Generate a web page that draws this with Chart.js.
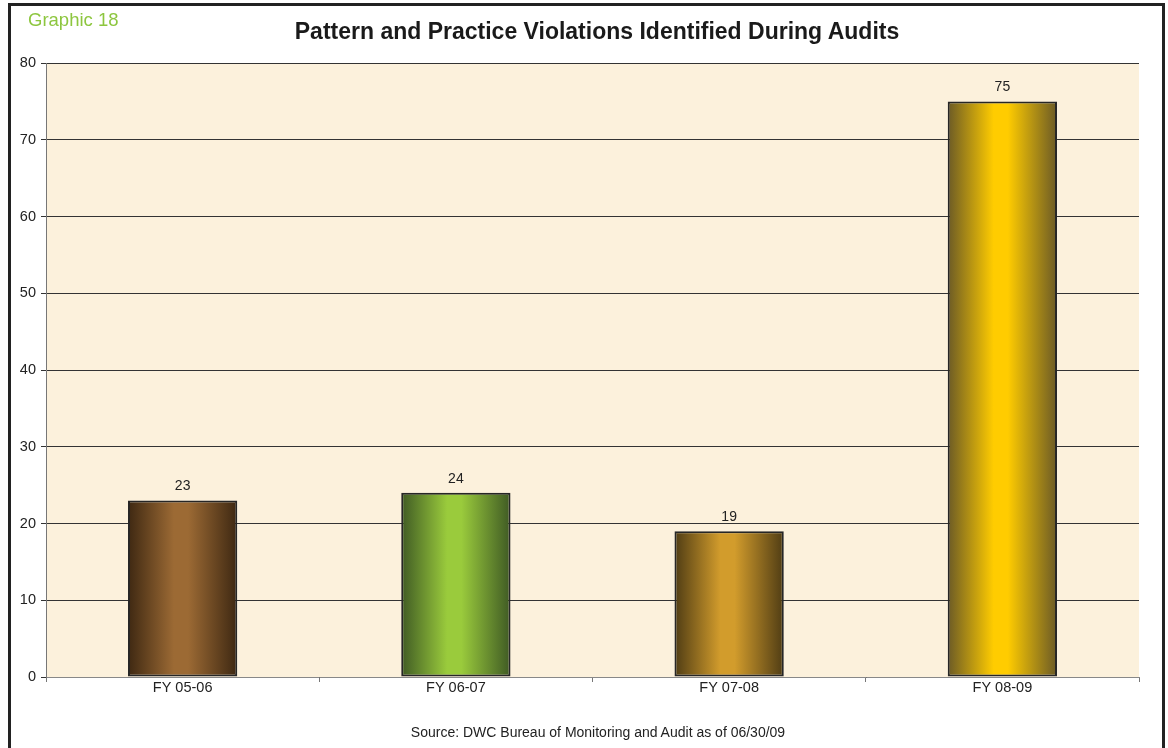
<!DOCTYPE html>
<html>
<head>
<meta charset="utf-8">
<script src="https://cdn.jsdelivr.net/npm/chart.js@4"></script>
<style>
  body { margin: 0; background: #fff; font-family: "Liberation Sans", Arial, sans-serif; }
  #page { position: relative; width: 1168px; height: 748px; overflow: hidden; background: #fff; }
  #frame { position: absolute; left: 8px; top: 3px; width: 1151px; height: 800px; border: 3px solid #222; }
  #tag { position: absolute; left: 28px; top: 9px; font-size: 18.5px; color: #8dc63f; }
  #title { position: absolute; left: 0; width: 1194px; top: 18px; text-align: center; font-size: 23px; font-weight: bold; color: #1a1a1a; }
  #source { position: absolute; left: 0; width: 1196px; top: 724px; text-align: center; font-size: 14px; color: #222; }
  #wrap { position: absolute; left: 0; top: 0; width: 1168px; height: 748px; }
</style>
</head>
<body>
<div id="page">
  <div id="frame"></div>
  <div id="wrap"><canvas id="chart" width="1168" height="748"></canvas></div>
  <div id="tag">Graphic 18</div>
  <div id="title">Pattern and Practice Violations Identified During Audits</div>
  <div id="source">Source: DWC Bureau of Monitoring and Audit as of 06/30/09</div>
</div>
<script>
const categories = ["FY 05-06", "FY 06-07", "FY 07-08", "FY 08-09"];
const violations = [23, 24, 19, 75];
const yTicks = [0, 10, 20, 30, 40, 50, 60, 70, 80];

// edge / middle colours of each bar's cylinder shading
const edgeColors = ["#3e2812", "#3f5a24", "#4f3c14", "#6b5a26"];
const midColors = ["#9c6a34", "#9acb3c", "#d29c2c", "#ffcc00"];

const BAR_FRACTION = 0.4;

function barFill(ctx) {
  const chart = ctx.chart;
  const x = chart.scales.x;
  const i = ctx.dataIndex;
  if (!x || !chart.chartArea || i === undefined) return midColors[0];
  const cx = x.getPixelForValue(i);
  const half = (x.width / categories.length) * BAR_FRACTION / 2;
  const g = chart.ctx.createLinearGradient(cx - half, 0, cx + half, 0);
  g.addColorStop(0, edgeColors[i]);
  g.addColorStop(0.42, midColors[i]);
  g.addColorStop(0.55, midColors[i]);
  g.addColorStop(1, edgeColors[i]);
  return g;
}

const plotBackground = {
  id: "plotBackground",
  beforeDraw(chart) {
    const { ctx, chartArea: a } = chart;
    ctx.save();
    ctx.fillStyle = "#fcf1dc";
    ctx.fillRect(a.left, a.top, a.right - a.left, a.bottom - a.top);
    ctx.restore();
  }
};

const valueLabels = {
  id: "valueLabels",
  afterDatasetsDraw(chart) {
    const { ctx } = chart;
    const meta = chart.getDatasetMeta(0);
    ctx.save();
    ctx.font = "14px 'Liberation Sans', Arial, sans-serif";
    ctx.fillStyle = "#222";
    ctx.textAlign = "center";
    ctx.textBaseline = "bottom";
    meta.data.forEach((bar, i) => {
      ctx.fillText(violations[i], bar.x, bar.y - 7);
    });
    ctx.restore();
  }
};

new Chart(document.getElementById("chart"), {
  type: "bar",
  data: {
    labels: categories,
    datasets: [{
      data: violations,
      backgroundColor: barFill,
      borderColor: "#262626",
      borderWidth: 2,
      borderSkipped: false,
      barPercentage: 0.8,
      categoryPercentage: 0.5
    }]
  },
  options: {
    responsive: false,
    animation: false,
    devicePixelRatio: 1,
    layout: { padding: { top: 63, right: 29, bottom: 41, left: 0 } },
    plugins: { legend: { display: false }, tooltip: { enabled: false } },
    scales: {
      x: {
        afterFit(scale) { scale.height = 30; },
        grid: { offset: true, drawOnChartArea: false, drawTicks: true, tickLength: 5, color: "#777" },
        border: { color: "#888", width: 1 },
        ticks: { color: "#222", font: { size: 14.5, family: "'Liberation Sans', Arial, sans-serif" }, padding: -3 }
      },
      y: {
        min: 0,
        max: 80,
        afterFit(scale) { scale.width = 46; },
        afterBuildTicks(scale) { scale.ticks = yTicks.map(v => ({ value: v })); },
        grid: { color: "#333", lineWidth: 1, tickLength: 5 },
        border: { color: "#777", width: 1 },
        ticks: { color: "#222", font: { size: 14.5, family: "'Liberation Sans', Arial, sans-serif" }, padding: 5 }
      }
    }
  },
  plugins: [plotBackground, valueLabels]
});
</script>
</body>
</html>
